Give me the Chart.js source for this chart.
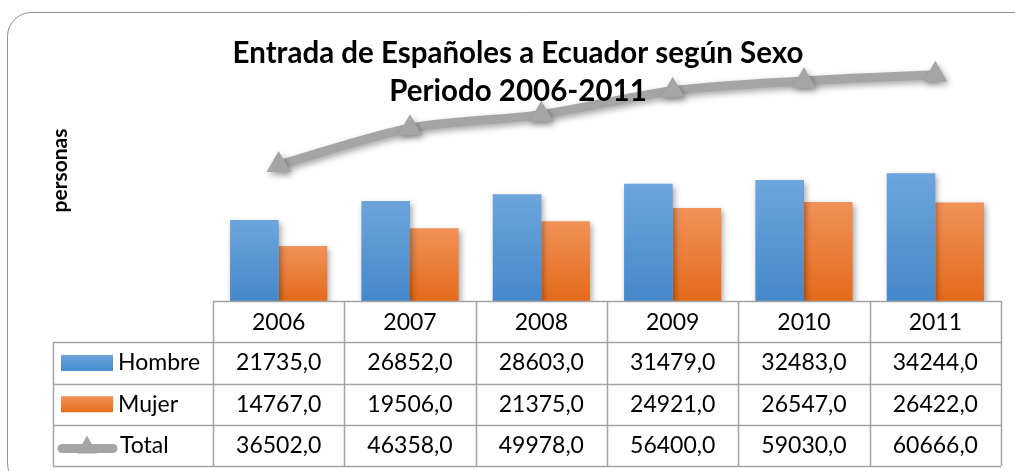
<!DOCTYPE html>
<html>
<head>
<meta charset="utf-8">
<script src="https://cdn.jsdelivr.net/npm/chart.js@4/dist/chart.umd.min.js"></script>
<style>
    html, body { margin: 0; padding: 0; background: #fff; }
    #wrap { width: 1015px; height: 471px; }
</style>
</head>
<body>
<div id="wrap"><canvas id="chartEntradas" width="1015" height="471"></canvas></div>
<script>
/* ------------------------------------------------------------
   Дані: entrada de españoles a Ecuador, 2006-2011
------------------------------------------------------------ */
const years  = ["2006", "2007", "2008", "2009", "2010", "2011"];
const hombre = [21735, 26852, 28603, 31479, 32483, 34244];
const mujer  = [14767, 19506, 21375, 24921, 26547, 26422];
const total  = [36502, 46358, 49978, 56400, 59030, 60666];

const titleLines = ["Entrada de Españoles a Ecuador según Sexo", "Periodo 2006-2011"];
const FONT = "Lato, 'Open Sans', sans-serif";

const fmt = v => v.toFixed(1).replace(".", ",");

// градієнт для кожного стовпчика окремо (світліший зверху)
function barGradient(top, bottom) {
    return function (c) {
        const chart = c.chart;
        if (!chart.chartArea || c.raw === undefined) return bottom;
        const y = chart.scales.y;
        const y0 = y.getPixelForValue(c.raw);
        const y1 = y.getPixelForValue(0);
        const g = chart.ctx.createLinearGradient(0, y0, 0, y1);
        g.addColorStop(0, top);
        g.addColorStop(1, bottom);
        return g;
    };
}

/* ------------------------------------------------------------
   Плагін: рамка, тіні, заголовок, таблиця даних
------------------------------------------------------------ */
const excelLook = {
    id: "excelLook",
    beforeDraw(chart) {
        const ctx = chart.ctx;
        ctx.save();
        ctx.fillStyle = "#fff";
        ctx.fillRect(0, 0, chart.width, chart.height);
        ctx.strokeStyle = "#8e8e8e";
        ctx.lineWidth = 1;
        ctx.beginPath();
        ctx.roundRect(7.5, 12.5, 1040, 475, 24);
        ctx.stroke();
        ctx.restore();
    },
    beforeDatasetDraw(chart) {
        const ctx = chart.ctx;
        ctx.save();
        ctx.shadowColor = "rgba(0,0,0,0.35)";
        ctx.shadowBlur = 6;
        ctx.shadowOffsetX = 2;
        ctx.shadowOffsetY = 3;
    },
    afterDatasetDraw(chart) {
        chart.ctx.restore();
    },
    afterDraw(chart) {
        const ctx = chart.ctx;
        const x = chart.scales.x;
        const area = chart.chartArea;
        const step = (area.right - area.left) / years.length;
        const rowH = 41.3;
        const top = area.bottom;
        const legLeft = 53;

        ctx.save();

        // заголовок
        ctx.fillStyle = "#000";
        ctx.textAlign = "center";
        ctx.textBaseline = "alphabetic";
        ctx.font = "bold 29.5px " + FONT;
        ctx.fillText(titleLines[0], 518, 63);
        ctx.fillText(titleLines[1], 518, 101);

        // сітка таблиці
        ctx.strokeStyle = "#a3a3a3";
        ctx.lineWidth = 1.5;
        ctx.beginPath();
        ctx.moveTo(area.left, top + 0.5);
        ctx.lineTo(area.right, top + 0.5);
        for (let r = 1; r <= 4; r++) {
            const yy = Math.round(top + r * rowH) + 0.5;
            ctx.moveTo(legLeft, yy);
            ctx.lineTo(area.right, yy);
        }
        for (let i = 0; i <= years.length; i++) {
            const xx = Math.round(x.getPixelForValue(i) - step / 2) + 0.5;
            ctx.moveTo(xx, top);
            ctx.lineTo(xx, top + 4 * rowH);
        }
        ctx.moveTo(legLeft + 0.5, top + rowH);
        ctx.lineTo(legLeft + 0.5, top + 4 * rowH);
        ctx.stroke();

        // рядки значень
        const rows = [
            { label: "Hombre", data: hombre, kind: "bar", c1: "#6da5dc", c2: "#4489cb" },
            { label: "Mujer",  data: mujer,  kind: "bar", c1: "#f19258", c2: "#e56c1b" },
            { label: "Total",  data: total,  kind: "line" }
        ];
        ctx.font = "23px " + FONT;
        ctx.textBaseline = "middle";
        rows.forEach((row, r) => {
            const cy = top + (r + 1.5) * rowH;
            // ключ легенди
            if (row.kind === "bar") {
                const g = ctx.createLinearGradient(0, cy - 8, 0, cy + 8);
                g.addColorStop(0, row.c1);
                g.addColorStop(1, row.c2);
                ctx.fillStyle = g;
                ctx.fillRect(61, cy - 8, 52, 16);
            } else {
                ctx.strokeStyle = "#a5a5a5";
                ctx.lineWidth = 9;
                ctx.lineCap = "round";
                ctx.beginPath();
                ctx.moveTo(62, cy + 3);
                ctx.lineTo(113, cy + 3);
                ctx.stroke();
                ctx.fillStyle = "#a5a5a5";
                ctx.beginPath();
                ctx.moveTo(87, cy - 10);
                ctx.lineTo(97, cy + 8);
                ctx.lineTo(77, cy + 8);
                ctx.closePath();
                ctx.fill();
            }
            ctx.fillStyle = "#000";
            ctx.textAlign = "left";
            ctx.fillText(row.label, row.kind === "bar" ? 118 : 120, cy);
            ctx.textAlign = "center";
            row.data.forEach((v, i) => {
                ctx.fillText(fmt(v), x.getPixelForValue(i), cy);
            });
        });

        ctx.restore();
    }
};

/* ------------------------------------------------------------
   Графік
------------------------------------------------------------ */
new Chart(document.getElementById("chartEntradas"), {
    data: {
        labels: years,
        datasets: [
            {
                type: "line",
                label: "Total",
                data: total,
                order: 0,
                borderColor: "#a5a5a5",
                borderWidth: 9,
                tension: 0.3,
                pointStyle: "triangle",
                pointRadius: 14,
                pointHoverRadius: 14,
                pointBackgroundColor: "#a5a5a5",
                pointBorderWidth: 0
            },
            {
                type: "bar",
                label: "Hombre",
                data: hombre,
                order: 1,
                backgroundColor: barGradient("#6da5dc", "#4488cb"),
                categoryPercentage: 0.74,
                barPercentage: 1.0
            },
            {
                type: "bar",
                label: "Mujer",
                data: mujer,
                order: 1,
                backgroundColor: barGradient("#f19258", "#e46a1a"),
                categoryPercentage: 0.74,
                barPercentage: 1.0
            }
        ]
    },
    options: {
        responsive: false,
        animation: false,
        layout: { padding: { top: 40, right: 11, bottom: 0, left: 44 } },
        plugins: {
            legend: { display: false },
            title: { display: false },
            tooltip: { enabled: false }
        },
        scales: {
            x: {
                grid: { display: false, drawTicks: false },
                border: { display: false },
                ticks: { color: "#000", font: { family: FONT, size: 23 }, padding: 8 },
                afterFit: s => { s.height = 170; }
            },
            y: {
                min: 0,
                max: 70000,
                grid: { display: false },
                border: { display: false },
                ticks: { display: false },
                title: {
                    display: true,
                    text: "personas",
                    color: "#000",
                    font: { family: FONT, size: 21, weight: "bold" }
                },
                afterFit: s => { s.width = 169; }
            }
        }
    },
    plugins: [excelLook]
});
</script>
</body>
</html>
